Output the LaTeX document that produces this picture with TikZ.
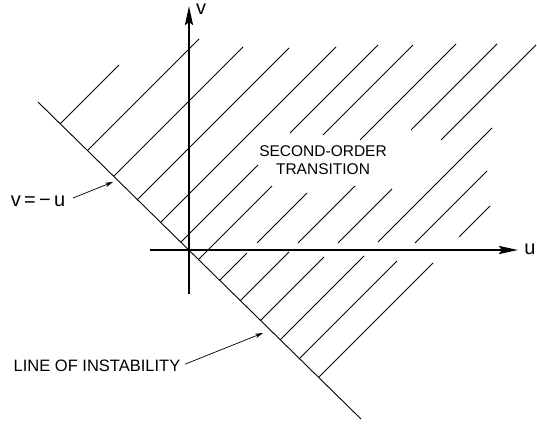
\documentclass[tikz,border=0pt]{standalone}
\usepackage{fontspec}
\setmainfont{Liberation Sans}
\usetikzlibrary{arrows.meta}

\begin{document}
\begin{tikzpicture}[
  x=1pt, y=-1pt,
  axis/.style={line width=2.4pt, -{Stealth[length=19pt, width=8pt, inset=3pt]}},
  hatch/.style={line width=0.8pt},
  boundary/.style={line width=0.9pt},
  caption/.style={font=\fontsize{15.5}{18}\selectfont, inner sep=0pt, align=center},
  var/.style={font=\fontsize{20}{22}\selectfont, inner sep=0pt},
  pointer/.style={line width=0.7pt, -{Stealth[length=8pt, width=4.5pt]}}
]
\useasboundingbox (0,0) rectangle (537,423);

% hatching of the second-order region: s = x+y, from y=a to y=b
\foreach \s/\a/\b in {184/124/65, 238/150/39, 290/176/47, 337/200/48, 383/222/47,
    423/242/165, 423/133/45, 458/259/186, 458/135/45,
    500/280/253, 500/243/193, 500/140/44,
    541/301/252, 541/243/186, 541/130/44,
    581/320/257, 581/243/189, 581/140/45,
    620/340/256, 620/242/128, 658/359/261, 658/243/171,
    696/377/263, 696/237/206}
  \draw[hatch] ({\s-\a},\a) -- ({\s-\b},\b);

% line of instability v = -u
\coordinate (diagtop) at (38,102);
\coordinate (diagbot) at (361,419);
\draw[boundary] (diagtop) -- (diagbot);

% axes
\coordinate (vbot) at (189,294);
\coordinate (vtop) at (189,6);
\coordinate (uleft) at (150,250);
\coordinate (uright) at (518,250);
\draw[axis] (vbot) -- (vtop);
\draw[axis] (uleft) -- (uright);
\node[var] (vlabel) at (201,9) {v};
\node[var] (ulabel) at (530,249) {u};

% labels
\node[caption] (region) at (323,160) {SECOND-ORDER\\TRANSITION};
\node[var] (eqlabel) at (38,201) {v\,=\,−\,u};
\node[caption, font=\fontsize{16.5}{18}\selectfont] (instab) at (97,366) {LINE OF INSTABILITY};

\coordinate (eqtip) at (113,182);
\coordinate (instabtip) at (263,333);
\draw[pointer, shorten <=8pt] (eqlabel.east) -- (eqtip);
\draw[pointer, shorten <=5pt] (instab.east) -- (instabtip);
\end{tikzpicture}
\end{document}
